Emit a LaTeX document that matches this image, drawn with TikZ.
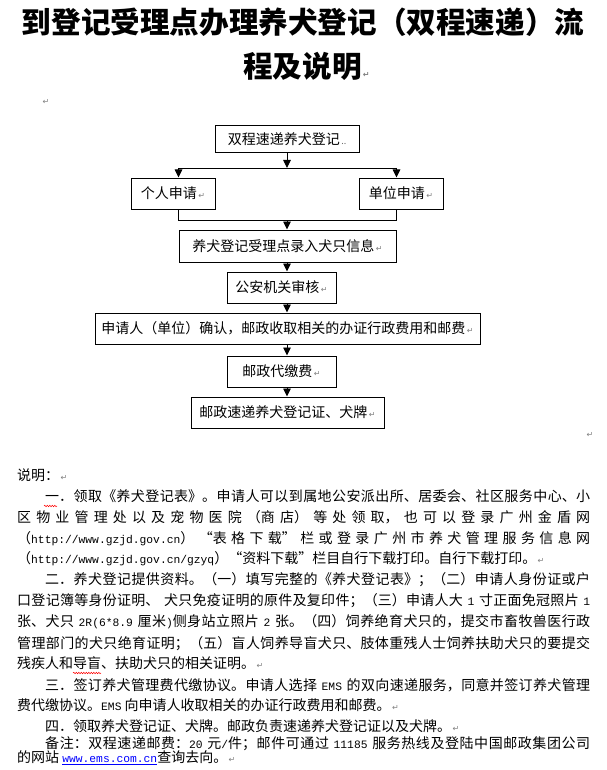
\documentclass[tikz,border=0pt]{standalone}
\usepackage{fontspec}
\setmainfont{Noto Sans CJK SC}
\newfontfamily\cjk{Noto Sans CJK SC}
\newfontfamily\latn{Liberation Mono}
\newfontfamily\marksfont{DejaVu Sans}
\usetikzlibrary{arrows.meta,decorations.pathmorphing}
\XeTeXlinebreaklocale "zh"
\XeTeXlinebreakskip=0pt plus 1fil

\newcommand{\rmk}{{\marksfont\color{gray}\fontsize{8}{8}\selectfont\,↵}}
\newcommand{\lt}[1]{\mbox{\latn\fontsize{11.3}{21}\selectfont #1}}
\newcommand{\lnk}[1]{{\color{blue}\underline{\lt{#1}}}}
\newcommand{\ind}{\hspace*{28pt}}

\tikzset{
  titletext/.style={inner sep=0pt, font=\cjk\bfseries\fontsize{29.6}{32}\selectfont},
  flowbox/.style={draw, line width=1pt, inner sep=0pt, font=\fontsize{14}{14}\selectfont},
  flowline/.style={line width=0.9pt},
  flowarrow/.style={flowline, -{Triangle[width=7.5pt,length=8pt]}},
  retmark/.style={inner sep=0pt, font=\marksfont\color{gray}\fontsize{8}{8}\selectfont},
  bodyline/.style={anchor=west, inner sep=0pt, text height=10pt, text depth=3pt,
    font=\fontsize{14}{21}\selectfont},
  fullline/.style={bodyline, text width=573pt,
    execute at begin node={\parfillskip=0pt\tolerance=10000\relax}},
  spellmark/.style={red, line width=0.5pt, decorate,
    decoration={snake, segment length=2.5pt, amplitude=0.7pt}},
}

\begin{document}
\begin{tikzpicture}[x=1pt,y=-1pt]
\useasboundingbox (0,0) rectangle (606,770);
\fill[white] (0,0) rectangle (606,770);

% title
\node[titletext] (title1) at (303,22) {到登记受理点办理养犬登记（双程速递）流};
\node[titletext, anchor=west] (title2) at (243,66) {程及说明\rmk};
\node[retmark] (ret1) at (46,102) {↵};

% flow chart
\node[flowbox, minimum width=144pt, minimum height=27pt] (reg) at (287,139.5)
  {双程速递养犬登记{\color{black!60}\fontsize{9}{9}\selectfont\,..}};
\node[flowbox, minimum width=84pt, minimum height=31pt] (person) at (173,193.5) {个人申请\rmk};
\node[flowbox, minimum width=84pt, minimum height=31pt] (unit) at (401,193.5) {单位申请\rmk};
\node[flowbox, minimum width=217pt, minimum height=32pt] (entry) at (287.5,246) {养犬登记受理点录入犬只信息\rmk};
\node[flowbox, minimum width=109pt, minimum height=31pt] (police) at (281.5,287.5) {公安机关审核\rmk};
\node[flowbox, minimum width=385pt, minimum height=31pt] (confirm) at (287.5,328.5) {申请人（单位）确认，邮政收取相关的办证行政费用和邮费\rmk};
\node[flowbox, minimum width=109pt, minimum height=31pt] (pay) at (281.5,371.5) {邮政代缴费\rmk};
\node[flowbox, minimum width=193pt, minimum height=31pt] (deliver) at (287.5,412.5) {邮政速递养犬登记证、犬牌\rmk};
\node[retmark] (ret2) at (590,435) {↵};

\coordinate (split) at (287,168);
\coordinate (join) at (287,220);
\draw[flowarrow] (reg.south) -- (split);
\draw[flowline] (entry.west |- split) -- (entry.east |- split);
\draw[flowarrow] (entry.west |- split) -- (entry.west |- person.north);
\draw[flowarrow] (entry.east |- split) -- (entry.east |- unit.north);
\draw[flowline] (entry.west |- person.south) -- (entry.west |- join)
  -- (entry.east |- join) -- (entry.east |- unit.south);
\draw[flowarrow] (join) -- (join |- entry.north);
\draw[flowarrow] (join |- entry.south) -- (join |- police.north);
\draw[flowarrow] (join |- police.south) -- (join |- confirm.north);
\draw[flowarrow] (join |- confirm.south) -- (join |- pay.north);
\draw[flowarrow] (join |- pay.south) -- (join |- deliver.north);

% notes
\node[bodyline] (l0) at (17,477) {说明：\rmk};
\node[fullline] (l1) at (17,498) {\ind 一．领取《养犬登记表》。申请人可以到属地公安派出所、居委会、社区服务中心、小};
\node[fullline] (l2) at (17,519) {区物业管理处以及宠物医院（商店）等处领取，也可以登录广州金盾网};
\node[fullline] (l3) at (17,540) {（\lt{http://www.gzjd.gov.cn}）“表格下载”栏或登录广州市养犬管理服务信息网};
\node[bodyline] (l4) at (17,560) {（\lt{http://www.gzjd.gov.cn/gzyq}）“资料下载”栏目自行下载打印。自行下载打印。\rmk};
\node[fullline] (l5) at (17,581) {\ind 二．养犬登记提供资料。（一）填写完整的《养犬登记表》；（二）申请人身份证或户};
\node[fullline] (l6) at (17,602) {口登记簿等身份证明、 犬只免疫证明的原件及复印件；（三）申请人大 \lt{1} 寸正面免冠照片 \lt{1}};
\node[fullline] (l7) at (17,623) {张、犬只 \lt{2R(6*8.9} 厘米\lt{)}侧身站立照片 \lt{2} 张。（四）饲养绝育犬只的，提交市畜牧兽医行政};
\node[fullline] (l8) at (17,645) {管理部门的犬只绝育证明；（五）盲人饲养导盲犬只、肢体重残人士饲养扶助犬只的要提交};
\node[bodyline] (l9) at (17,665) {残疾人和导盲、扶助犬只的相关证明。\rmk};
\node[fullline] (l10) at (17,687) {\ind 三．签订养犬管理费代缴协议。申请人选择 \lt{EMS} 的双向速递服务，同意并签订养犬管理};
\node[bodyline] (l11) at (17,707) {费代缴协议。\lt{EMS} 向申请人收取相关的办证行政费用和邮费。\rmk};
\node[bodyline] (l12) at (17,728) {\ind 四．领取养犬登记证、犬牌。邮政负责速递养犬登记证以及犬牌。\rmk};
\node[fullline] (l13) at (17,745) {\ind 备注：双程速递邮费：\lt{20} 元\lt{/}件；邮件可通过 \lt{11185} 服务热线及登陆中国邮政集团公司};
\node[bodyline] (l14) at (17,759) {的网站 \lnk{www.ems.com.cn}查询去向。\rmk};

% spell check marks
\draw[spellmark] (44,506) -- (57,506);
\draw[spellmark] (73,673) -- (101,673);
\end{tikzpicture}
\end{document}
